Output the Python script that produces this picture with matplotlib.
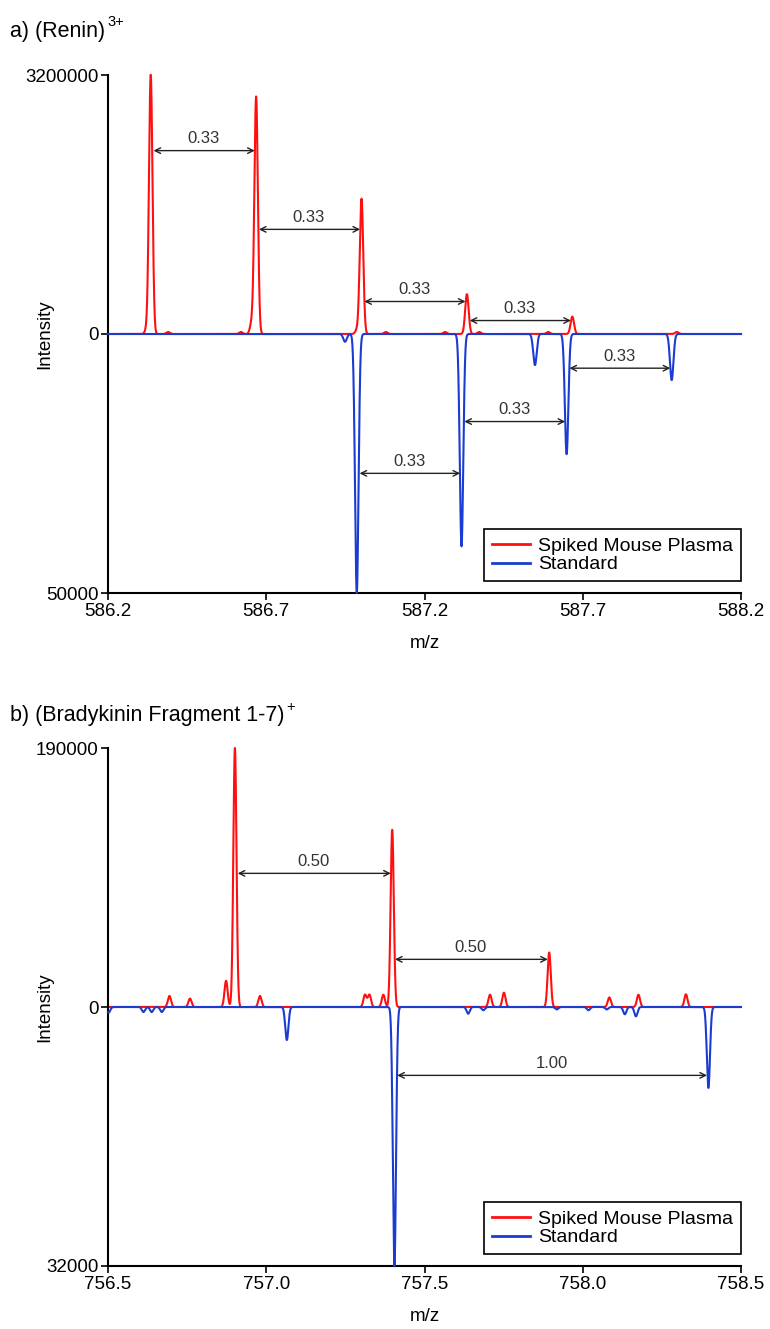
import matplotlib
matplotlib.use("Agg")
import matplotlib.pyplot as plt
import numpy as np

plt.rcParams["font.family"] = ["Liberation Sans", "DejaVu Sans"]

# ---------------------------------------------------------------------------
# Data (peak centroids, m/z and intensity)
# ---------------------------------------------------------------------------

# a) Renin 3+
renin_plasma_mz = [586.322, 586.335, 586.390, 586.620, 586.654, 586.668,
                   586.987, 587.001, 587.078, 587.265, 587.334, 587.373,
                   587.591, 587.667, 587.997]
renin_plasma_int = [50000, 3200000, 25000, 25000, 132000, 2930000,
                    50000, 1670000, 25000, 25000, 492000, 25000,
                    25000, 215000, 25000]
renin_std_mz = [586.949, 586.986, 587.317, 587.549, 587.649, 587.981]
renin_std_int = [1500, 50000, 41000, 6000, 23200, 8900]
renin_top, renin_bottom = 3200000, 50000
renin_xticks = [586.2, 586.7, 587.2, 587.7, 588.2]
# (series, left peak index, right peak index, label)
renin_gaps = [("plasma", 1, 5, "0.33"), ("plasma", 5, 7, "0.33"),
              ("plasma", 7, 10, "0.33"), ("plasma", 10, 13, "0.33"),
              ("std", 4, 5, "0.33"), ("std", 2, 4, "0.33"),
              ("std", 1, 2, "0.33")]
renin_gap_levels = [0.708, 0.404, 0.1255, 0.052, -0.132, -0.338, -0.538]

# b) Bradykinin fragment 1-7 +
brady_plasma_mz = [756.694, 756.759, 756.873, 756.901, 756.980, 757.312,
                   757.326, 757.370, 757.398, 757.707, 757.751, 757.894,
                   758.084, 758.176, 758.326]
brady_plasma_int = [8100, 6200, 19200, 190000, 8100, 9000,
                    9000, 9000, 130000, 9000, 10500, 40000,
                    7000, 9000, 9300]
brady_std_mz = [756.502, 756.612, 756.638, 756.670, 757.065, 757.405,
                757.638, 757.686, 757.918, 758.018, 758.076, 758.133,
                758.168, 758.397]
brady_std_int = [700, 620, 620, 620, 4080, 32000,
                 830, 400, 300, 400, 300, 900,
                 1150, 10000]
brady_top, brady_bottom = 190000, 32000
brady_xticks = [756.5, 757.0, 757.5, 758.0, 758.5]
brady_gaps = [("plasma", 3, 8, "0.50"), ("plasma", 8, 11, "0.50"),
              ("std", 5, 13, "1.00")]
brady_gap_levels = [0.516, 0.184, -0.264]

RED = "#ff1010"
BLUE = "#1a3cd0"
W, H = 770, 1329


def profile(grid, centers, heights, width):
    y = np.zeros_like(grid)
    for c, h in zip(centers, heights):
        y += h * np.exp(-0.5 * ((grid - c) / width) ** 2)
    return y


def draw_panel(ax, xticks, plasma_mz, plasma_int, std_mz, std_int,
               top, bottom, gaps, levels, width):
    grid = np.linspace(xticks[0], xticks[-1], 8001)
    red = profile(grid, plasma_mz, plasma_int, width) / top
    blue = -profile(grid, std_mz, std_int, width) / bottom
    ax.plot(grid, red, color=RED, lw=1.5, clip_on=False, zorder=2,
            label="Spiked Mouse Plasma")
    ax.plot(grid, blue, color=BLUE, lw=1.5, clip_on=False, zorder=3,
            label="Standard")

    series = {"plasma": plasma_mz, "std": std_mz}
    for (name, i, j, text), lvl in zip(gaps, levels):
        x1, x2 = series[name][i], series[name][j]
        ax.annotate("", xy=(x2, lvl), xytext=(x1, lvl),
                    arrowprops=dict(arrowstyle="<->", color="#222222", lw=1.0,
                                    shrinkA=2, shrinkB=1, mutation_scale=10),
                    zorder=4)
        ax.text((x1 + x2) / 2, lvl + 0.045, text, ha="center", va="center",
                fontsize=12, color="#333333")

    ax.set_xlim(xticks[0], xticks[-1])
    ax.set_ylim(-1, 1)
    ax.set_xticks(xticks)
    ax.set_xticklabels([f"{t:.1f}" for t in xticks])
    ax.set_yticks([-1, 0, 1])
    ax.set_yticklabels([str(bottom), "0", str(top)])
    for s in ("top", "right"):
        ax.spines[s].set_visible(False)
    for s in ("left", "bottom"):
        ax.spines[s].set_linewidth(1.5)
    ax.tick_params(labelsize=13.5, length=5, width=1.2, pad=2)
    ax.set_ylabel("Intensity", fontsize=13.5)
    ax.yaxis.set_label_coords(-0.087, 0.5)
    ax.set_xlabel("m/z", fontsize=13.5)
    ax.xaxis.set_label_coords(0.5, -0.082)
    leg = ax.legend(loc="lower right", bbox_to_anchor=(1.0, 0.023),
                    borderaxespad=0, fontsize=14, fancybox=False,
                    framealpha=1, edgecolor="black", handlelength=2.0,
                    handletextpad=0.4, labelspacing=0.05, borderpad=0.4)
    leg.get_frame().set_linewidth(1.2)
    for line in leg.get_lines():
        line.set_linewidth(2)


fig = plt.figure(figsize=(W / 100, H / 100), dpi=100)
ax_a = fig.add_axes([108 / W, 1 - 593 / H, 633 / W, 518 / H])
ax_b = fig.add_axes([108 / W, 1 - 1266 / H, 633 / W, 518 / H])

draw_panel(ax_a, renin_xticks, renin_plasma_mz, renin_plasma_int,
           renin_std_mz, renin_std_int, renin_top, renin_bottom,
           renin_gaps, renin_gap_levels, 0.0055)
draw_panel(ax_b, brady_xticks, brady_plasma_mz, brady_plasma_int,
           brady_std_mz, brady_std_int, brady_top, brady_bottom,
           brady_gaps, brady_gap_levels, 0.005)

# panel titles with superscript charge states
for ax, y, main, sup in [(ax_a, 31, "a) (Renin)", "3+"),
                         (ax_b, 716, "b) (Bradykinin Fragment 1-7)", "+")]:
    t = fig.text(10 / W, 1 - y / H, main, fontsize=15.5, va="center")
    ax.annotate(sup, xy=(1, 1), xycoords=t, xytext=(1.5, 4),
                textcoords="offset points", fontsize=10.5, va="top",
                annotation_clip=False)

fig.savefig("out.png", dpi=100)
